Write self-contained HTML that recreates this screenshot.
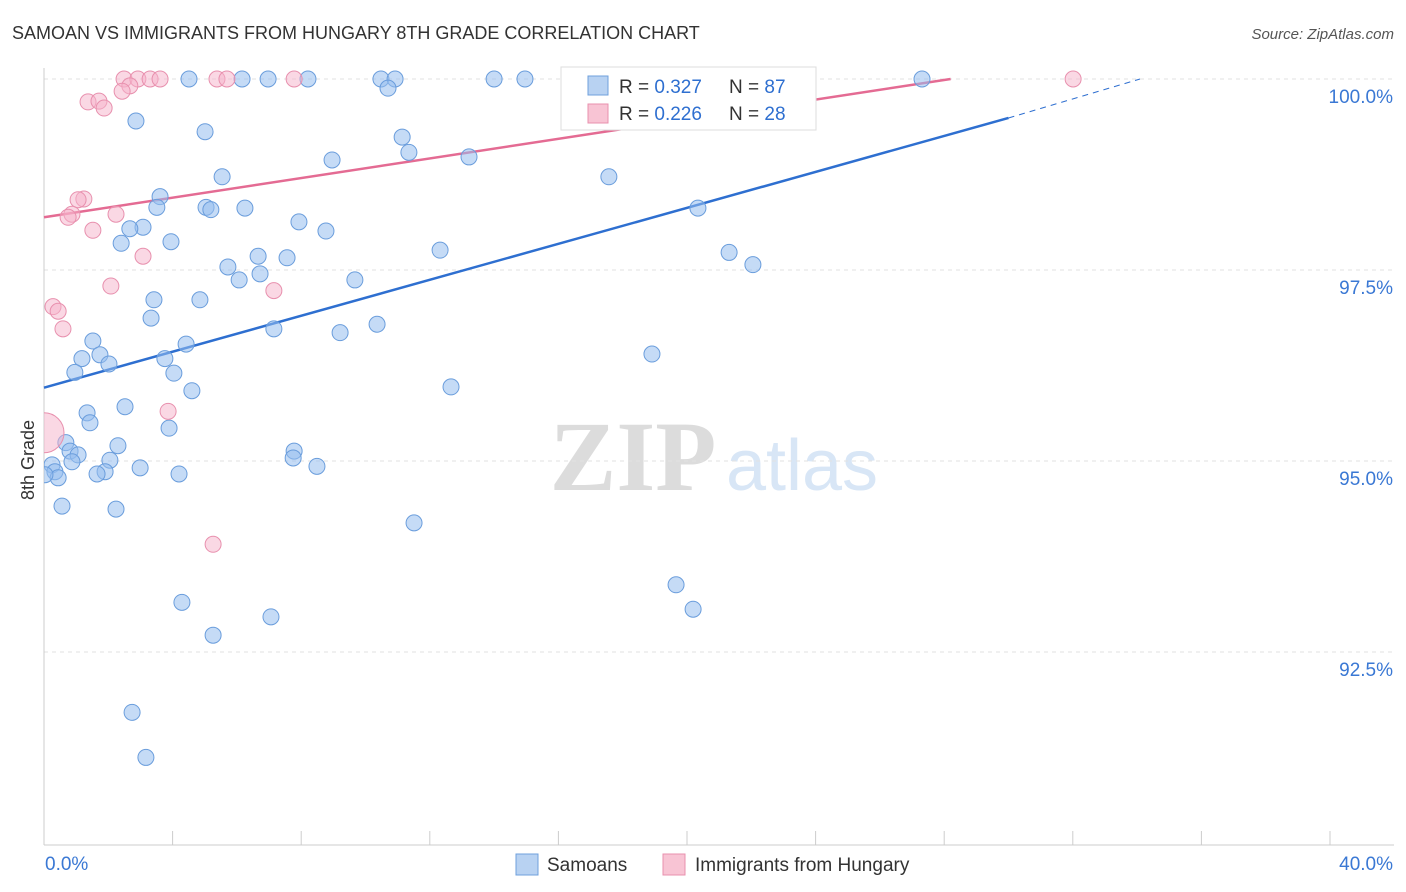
<!DOCTYPE html>
<html><head><meta charset="utf-8"><style>
body{margin:0;background:#fff;font-family:"Liberation Sans",sans-serif;}
svg{display:block}
</style></head><body>
<svg id="chart" width="1406" height="892">
<defs><clipPath id="plotclip"><rect x="44" y="60" width="1360" height="785"/></clipPath></defs>
<text x="12" y="39" font-size="18" fill="#333">SAMOAN VS IMMIGRANTS FROM HUNGARY 8TH GRADE CORRELATION CHART</text>
<text x="1394" y="39" font-size="15" fill="#555" font-style="italic" text-anchor="end">Source: ZipAtlas.com</text>
<g><text x="633" y="490" font-size="100" fill="#dcdcdc" font-family="Liberation Serif" font-weight="bold" text-anchor="middle">ZIP</text><text x="802" y="490" font-size="72" fill="#d8e6f6" text-anchor="middle">atlas</text></g>
<g id="grid"></g><g id="axes"></g><g id="lines"></g><g id="pts" clip-path="url(#plotclip)"></g>
<text x="34" y="460" font-size="18" fill="#333" text-anchor="middle" transform="rotate(-90 34 460)">8th Grade</text>
<g>
<rect x="561" y="67" width="255" height="63" fill="#fff" stroke="#ddd"/>
<rect x="588" y="76" width="20" height="19" fill="#b8d2f2" stroke="#6fa0dc"/>
<rect x="588" y="104" width="20" height="19" fill="#f8c4d4" stroke="#e890ae"/>
<text x="619" y="93" font-size="19" fill="#333">R = <tspan fill="#2e6fd0">0.327</tspan><tspan x="729">N = </tspan><tspan fill="#2e6fd0">87</tspan></text>
<text x="619" y="120" font-size="19" fill="#333">R = <tspan fill="#2e6fd0">0.226</tspan><tspan x="729">N = </tspan><tspan fill="#2e6fd0">28</tspan></text>
</g>
<g>
<rect x="516" y="854" width="22" height="21" fill="#b8d2f2" stroke="#6fa0dc"/>
<text x="547" y="871" font-size="19" fill="#333">Samoans</text>
<rect x="663" y="854" width="22" height="21" fill="#f8c4d4" stroke="#e890ae"/>
<text x="695" y="871" font-size="19" fill="#333">Immigrants from Hungary</text>
</g>
<text x="45" y="870" font-size="19" fill="#3a78d4">0.0%</text>
<text x="1393" y="870" font-size="19" fill="#3a78d4" text-anchor="end">40.0%</text>
</svg>
<script>
const yTicks=[100,97.5,95,92.5];
const yTickLabels=["100.0%","97.5%","95.0%","92.5%"];
const xTicks=[0,4,8,12,16,20,24,28,32,36,40];
const blueX=[4.51,6.16,6.97,8.21,10.48,10.92,14.00,14.96,27.31,10.70,2.86,5.01,11.14,11.35,8.96,13.22,5.54,17.57,3.61,3.51,5.04,5.19,6.25,20.34,7.93,3.08,2.67,8.77,2.40,3.95,12.32,21.31,6.66,7.56,22.05,5.72,6.72,6.07,9.67,3.42,4.85,3.33,7.15,9.21,10.36,1.52,4.42,18.91,1.18,1.74,3.76,2.02,0.96,4.04,4.60,12.66,2.52,1.34,1.43,3.89,0.68,2.30,7.78,0.81,1.06,7.75,2.05,0.87,8.49,0.25,2.99,1.90,1.65,0.34,0.44,0.03,4.20,0.56,2.24,11.51,19.66,4.29,20.19,7.06,5.26,2.74,3.17];
const blueY=[100,100,100,100,100,100,100,100,100,99.88,99.45,99.31,99.24,99.04,98.94,98.98,98.72,98.72,98.46,98.32,98.32,98.29,98.31,98.31,98.13,98.06,98.04,98.01,97.85,97.87,97.76,97.73,97.68,97.66,97.57,97.54,97.45,97.37,97.37,97.11,97.11,96.87,96.73,96.68,96.79,96.57,96.53,96.40,96.34,96.39,96.34,96.27,96.16,96.15,95.92,95.97,95.71,95.63,95.50,95.43,95.24,95.20,95.13,95.13,95.08,95.04,95.01,94.99,94.93,94.95,94.91,94.86,94.83,94.86,94.78,94.82,94.83,94.41,94.37,94.19,93.38,93.15,93.06,92.96,92.72,91.71,91.12];
const pinkX=[2.49,2.92,3.30,3.61,5.38,5.69,7.78,32.01,2.67,2.43,1.37,1.71,1.87,1.24,1.06,0.87,0.75,2.24,1.52,3.08,2.08,7.15,0.28,0.44,0.59,3.86,5.26,0];
const pinkY=[100,100,100,100,100,100,100,100,99.91,99.84,99.70,99.71,99.62,98.43,98.42,98.23,98.19,98.23,98.02,97.68,97.29,97.23,97.02,96.96,96.73,95.65,93.91,95.37];
const pinkBig=[0,0,0,0,0,0,0,0,0,0,0,0,0,0,0,0,0,0,0,0,0,0,0,0,0,0,0,1];
const blueLine=[0,95.96,30,99.49,34.09,100];
const pinkLine=[0,98.19,28.2,100];
const X=v=>44+v/40*1286, Y=v=>79+(100-v)/2.5*191;
const NS="http://www.w3.org/2000/svg";
function mk(p,t,a){const e=document.createElementNS(NS,t);for(const k in a)e.setAttribute(k,a[k]);p.appendChild(e);return e;}
const g=document.getElementById('grid'),ax=document.getElementById('axes'),ln=document.getElementById('lines'),pt=document.getElementById('pts');
yTicks.forEach((t,i)=>{
 const l=mk(g,'line',{x1:44,x2:1394,y1:Y(t),y2:Y(t),stroke:'#e2e2e2','stroke-dasharray':'4,4'});
 
 
 const tx=mk(g,'text',{x:1393,y:Y(t)+24,'font-size':19,fill:'#3a78d4','text-anchor':'end'});tx.textContent=yTickLabels[i];
 
 
});
const xa=mk(ax,'line',{x1:44,x2:1394,y1:845,y2:845,stroke:'#ccc'});


const ya=mk(ax,'line',{x1:44,x2:44,y1:68,y2:845,stroke:'#ccc'});


xTicks.forEach(t=>{const l=mk(ax,'line',{x1:X(t),x2:X(t),y1:831,y2:845,stroke:'#ccc'});
 
 });
const bl=mk(ln,'line',{x1:X(blueLine[0]),y1:Y(blueLine[1]),x2:X(blueLine[2]),y2:Y(blueLine[3]),stroke:'#2e6fd0','stroke-width':2.5});


const bd=mk(ln,'line',{x1:X(blueLine[2]),y1:Y(blueLine[3]),x2:X(blueLine[4]),y2:Y(blueLine[5]),stroke:'#2e6fd0','stroke-width':1,'stroke-dasharray':'6,5'});


const pl=mk(ln,'line',{x1:X(pinkLine[0]),y1:Y(pinkLine[1]),x2:X(pinkLine[2]),y2:Y(pinkLine[3]),stroke:'#e46b93','stroke-width':2.5});


blueX.forEach((v,i)=>{const c=mk(pt,'circle',{cx:X(v),cy:Y(blueY[i]),r:8,fill:'rgba(150,190,238,0.55)',stroke:'#6a9ddc','stroke-width':1});
 
 });
pinkX.forEach((v,i)=>{const c=mk(pt,'circle',{cx:X(v),cy:Y(pinkY[i]),r:pinkBig[i]?20:8,fill:'rgba(246,178,202,0.5)',stroke:'#e890ae','stroke-width':1});
 
 });
</script>
</body></html>
